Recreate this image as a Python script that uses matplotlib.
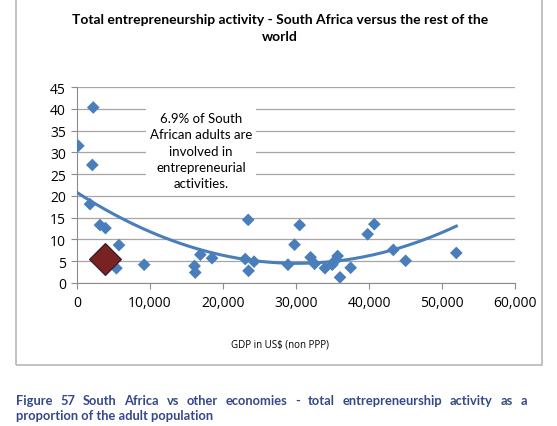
import numpy as np
import matplotlib
matplotlib.use('Agg')
from matplotlib import pyplot as plt
from matplotlib.patches import Rectangle
from matplotlib.ticker import FuncFormatter

# GDP (US$, non PPP) vs total entrepreneurship activity (%)
gdp = [180, 2230, 2100, 1780, 3150, 3900, 5750, 5400, 9200, 16100, 16200,
       16900, 18500, 23050, 23450, 23500, 24250, 28900, 29800, 30500, 32000,
       32550, 33970, 34970, 35340, 35700, 36030, 37490, 39820, 40730, 43330,
       45020, 51960]
tea = [31.5, 40.3, 27.1, 18.1, 13.3, 12.6, 8.7, 3.4, 4.2, 3.9, 2.4,
       6.5, 5.7, 5.5, 14.5, 2.8, 4.9, 4.2, 8.8, 13.3, 5.9,
       4.4, 3.4, 4.2, 5.1, 6.2, 1.3, 3.5, 11.2, 13.5, 7.6,
       5.1, 6.9]
sa_gdp = [3900]
sa_tea = [5.4]

# polynomial trendline
trend_x = [0, 10000, 20000, 30000, 43300, 51960]
trend_y = [20.6, 12.2, 6.1, 4.5, 7.6, 13.1]

title = 'Total entrepreneurship activity - South Africa versus the rest of the\nworld'
note = '6.9% of South\nAfrican adults are\ninvolved in\nentrepreneurial\nactivities.'
caption1 = 'Figure 57 South Africa vs other economies - total entrepreneurship activity as a'
caption2 = 'proportion of the adult population'

blue = '#4a7ebb'
W, H = 557, 427
fig = plt.figure(figsize=(W / 100, H / 100), dpi=100)
fig.patch.set_facecolor('white')

# chart frame
fig.patches.append(Rectangle((16 / W, 1 - 366 / H), 526 / W, 366 / H + 0.02,
                             transform=fig.transFigure, fill=False,
                             edgecolor='#b8b8b8', lw=1.2))

ax = fig.add_axes([77 / W, 1 - 284 / H, 438 / W, 196 / H])
ax.set_xlim(0, 60000)
ax.set_ylim(0, 45)
ax.set_yticks(np.arange(0, 46, 5))
ax.set_xticks(np.arange(0, 60001, 10000))
ax.xaxis.set_major_formatter(FuncFormatter(lambda v, p: f'{int(v):,}'))
ax.grid(axis='y', color='#a6a6a6', lw=0.9)
ax.set_axisbelow(True)
for s in ['top', 'right']:
    ax.spines[s].set_visible(False)
for s in ['left', 'bottom']:
    ax.spines[s].set_color('#8c8c8c')
ax.tick_params(axis='both', colors='#8c8c8c', labelcolor='black', labelsize=10,
               length=4)
ax.tick_params(axis='y', pad=4)
ax.tick_params(axis='x', pad=5)
for lab in ax.get_xticklabels() + ax.get_yticklabels():
    lab.set_family('Open Sans')

coef = np.polyfit(trend_x, trend_y, 2)
xs = np.linspace(0, max(gdp), 200)
ax.plot(xs, np.polyval(coef, xs), color=blue, lw=2.2, zorder=3)

ax.scatter(gdp, tea, marker='D', s=42, color=blue, edgecolors='none', zorder=4)
ax.scatter(sa_gdp, sa_tea, marker='D', s=260, color='#7a2222',
           edgecolors='#3b1f2b', linewidths=1, zorder=5)

ax.text(124 / 438, (284 - 190) / 196, note, transform=ax.transAxes,
        ha='center', va='bottom', fontsize=9.5, family='Lato',
        linespacing=1.42,
        bbox=dict(facecolor='white', edgecolor='none', pad=3), zorder=2)

fig.text(280 / W, 1 - 14 / H, title, ha='center', va='top', fontsize=10,
         weight='bold', family='Lato', linespacing=1.5)
fig.text(280 / W, 1 - 345 / H, 'GDP in US$ (non PPP)', ha='center',
         va='center', fontsize=7, family='Open Sans')

# justified caption
cap_color = '#34488a'
renderer = fig.canvas.get_renderer()
words = caption1.split(' ')
items = [fig.text(0, 0, w, fontsize=9.3, weight='bold', family='Lato',
                  color=cap_color, va='baseline') for w in words]
widths = [t.get_window_extent(renderer).width for t in items]
x0, x1 = 16, 527
gap = (x1 - x0 - sum(widths)) / (len(words) - 1)
xpos = x0
for t, w in zip(items, widths):
    t.set_position((xpos / W, 1 - 405 / H))
    xpos += w + gap
fig.text(x0 / W, 1 - 420 / H, caption2, fontsize=9.3, weight='bold',
         family='Lato', color=cap_color, va='baseline')

fig.savefig('out.png', dpi=100)
